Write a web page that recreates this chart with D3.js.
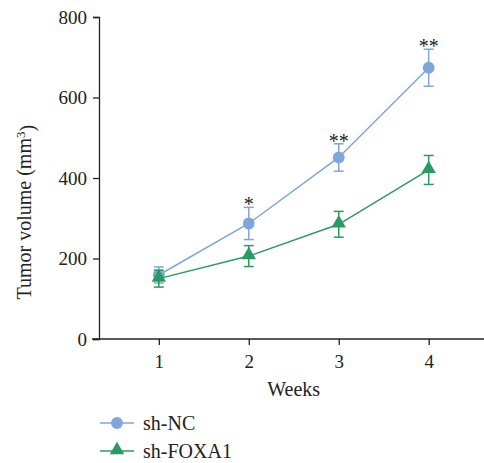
<!DOCTYPE html>
<html>
<head>
<meta charset="utf-8">
<script src="https://cdn.jsdelivr.net/npm/d3@7"></script>
<style>
  body { margin: 0; background: #fff; }
  text { font-family: "Liberation Serif", "DejaVu Serif", serif; fill: #222; }
</style>
</head>
<body>
<div id="chart"></div>
<script>
// Data
const weeks = [1, 2, 3, 4]
const ncMean = [159, 287, 451, 674]
const ncErr = [20, 40, 34, 46]
const foxMean = [150, 206, 285, 420]
const foxErr = [21, 26, 32, 36]
const stars = ['', '*', '**', '**']
const yTicks = [0, 200, 400, 600, 800]

const series = [
  { name: 'sh-NC', mean: ncMean, err: ncErr, color: '#7fa6db', shape: d3.symbolCircle },
  { name: 'sh-FOXA1', mean: foxMean, err: foxErr, color: '#2a9a62', shape: d3.symbolTriangle }
]

// Dimensions
const width = 484, height = 463
const margin = { left: 99, top: 17, bottom: 124 }

const svg = d3.select('#chart')
  .append('svg')
  .attr('width', width)
  .attr('height', height)

// Scales
const xScale = d3.scaleLinear()
  .domain([0.335, 4.615])
  .range([margin.left, width])

const yScale = d3.scaleLinear()
  .domain([0, 800])
  .range([height - margin.bottom, margin.top])

// Axes
const xAxis = d3.axisBottom(xScale).tickValues(weeks).tickFormat(d3.format('d')).tickSize(6).tickPadding(10)
const xg = svg.append('g')
  .attr('transform', `translate(0, ${yScale(0)})`)
  .call(xAxis)
xg.select('.domain').attr('d', `M${margin.left - 7},0H${width}`)

const yAxis = d3.axisLeft(yScale).tickValues(yTicks).tickSize(6).tickPadding(6)
const yg = svg.append('g')
  .attr('transform', `translate(${margin.left}, 0)`)
  .call(yAxis)

svg.selectAll('.domain, .tick line').attr('stroke', '#222').attr('stroke-width', 1.3)
svg.selectAll('.tick text').style('font-size', '19px').attr('fill', '#222')
yg.selectAll('.tick text').attr('dy', '0.34em')

// Axis labels
svg.append('text')
  .attr('x', xScale(2.5))
  .attr('y', 396)
  .style('text-anchor', 'middle')
  .style('font-size', '20px')
  .text('Weeks')

const yl = svg.append('text')
  .attr('transform', `translate(31, ${yScale(315)}) rotate(-90)`)
  .style('text-anchor', 'middle')
  .style('font-size', '20px')
yl.append('tspan').text('Tumor volume (mm')
yl.append('tspan').attr('dy', '-0.45em').style('font-size', '13px').text('3')
yl.append('tspan').attr('dy', '0.45em').text(')')

// Series
const line = d3.line().x((d, i) => xScale(weeks[i])).y(d => yScale(d))

series.forEach(s => {
  svg.append('path')
    .datum(s.mean)
    .attr('d', line)
    .attr('fill', 'none')
    .attr('stroke', s.color)
    .attr('stroke-width', 1.5)

  const g = svg.append('g').attr('stroke', s.color).attr('stroke-width', 1.5)
  s.mean.forEach((m, i) => {
    const x = xScale(weeks[i])
    const top = yScale(m + s.err[i]), bot = yScale(m - s.err[i])
    g.append('line').attr('x1', x).attr('x2', x).attr('y1', top).attr('y2', bot)
    g.append('line').attr('x1', x - 5).attr('x2', x + 5).attr('y1', top).attr('y2', top)
    g.append('line').attr('x1', x - 5).attr('x2', x + 5).attr('y1', bot).attr('y2', bot)
  })

  svg.append('g').selectAll('path')
    .data(s.mean)
    .join('path')
    .attr('transform', (d, i) => `translate(${xScale(weeks[i])}, ${yScale(d) - (s.shape === d3.symbolTriangle ? 1 : 0)})`)
    .attr('d', d3.symbol().type(s.shape).size(s.shape === d3.symbolTriangle ? 90 : 110))
    .attr('fill', s.color)
})

// Significance stars
svg.append('g').selectAll('text')
  .data(stars)
  .join('text')
  .attr('x', (d, i) => xScale(weeks[i]))
  .attr('y', (d, i) => yScale(ncMean[i] + ncErr[i]) + 4)
  .style('text-anchor', 'middle')
  .style('font-size', '20px')
  .attr('fill', '#444')
  .text(d => d)

// Legend
const legend = svg.append('g')
series.forEach((s, i) => {
  const y = 423 + i * 28
  legend.append('line')
    .attr('x1', 100).attr('x2', 134).attr('y1', y).attr('y2', y)
    .attr('stroke', s.color).attr('stroke-width', 1.5)
  legend.append('path')
    .attr('transform', `translate(117, ${y - (s.shape === d3.symbolTriangle ? 1 : 0)})`)
    .attr('d', d3.symbol().type(s.shape).size(s.shape === d3.symbolTriangle ? 90 : 110))
    .attr('fill', s.color)
  legend.append('text')
    .attr('x', 143).attr('y', y)
    .attr('dy', '0.35em')
    .style('font-size', '20px')
    .text(s.name)
})
</script>
</body>
</html>
